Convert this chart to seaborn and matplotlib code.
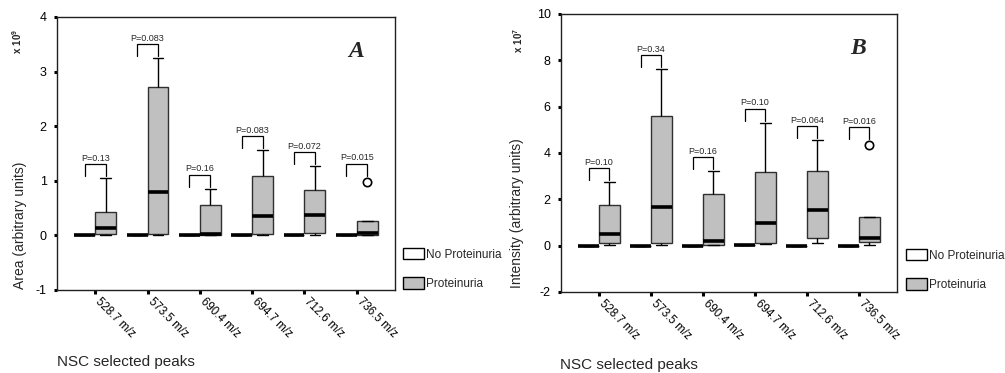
import numpy as np
import pandas as pd
import matplotlib
matplotlib.use("Agg")
import matplotlib.pyplot as plt
import seaborn as sns
from matplotlib.patches import Patch

# ---- data -------------------------------------------------------------
peaks = ["528.7 m/z", "573.5 m/z", "690.4 m/z", "694.7 m/z", "712.6 m/z", "736.5 m/z"]
groups = ["No Proteinuria", "Proteinuria"]

# Panel A: peak area (x 10^9); five-number summaries of the proteinuria group
area_lo = [0.00, 0.00, 0.00, 0.00, 0.00, 0.00]
area_q1 = [0.02, 0.02, 0.01, 0.02, 0.05, 0.01]
area_med = [0.14, 0.79, 0.03, 0.36, 0.38, 0.04]
area_q3 = [0.43, 2.71, 0.55, 1.08, 0.83, 0.27]
area_hi = [1.05, 3.24, 0.85, 1.56, 1.27, 0.98]
area_ctrl = [0.0, 0.0, 0.0, 0.0, 0.0, 0.0]
area_p = ["P=0.13", "P=0.083", "P=0.16", "P=0.083", "P=0.072", "P=0.015"]

# Panel B: peak intensity (x 10^7)
int_lo = [0.05, 0.05, 0.03, 0.07, 0.13, 0.02]
int_q1 = [0.10, 0.10, 0.05, 0.10, 0.32, 0.14]
int_med = [0.49, 1.65, 0.20, 0.96, 1.52, 0.32]
int_q3 = [1.76, 5.60, 2.21, 3.17, 3.21, 1.25]
int_hi = [2.74, 7.61, 3.21, 5.30, 4.56, 4.34]
int_ctrl = [0.0, 0.0, 0.0, 0.05, 0.0, 0.0]
int_p = ["P=0.10", "P=0.34", "P=0.16", "P=0.10", "P=0.064", "P=0.016"]

WHIS = 2.0

# ---- style ------------------------------------------------------------
sns.set_style("white")
plt.rcParams["font.family"] = ["Liberation Sans", "DejaVu Sans"]
plt.rcParams["mathtext.fontset"] = "custom"
plt.rcParams["mathtext.rm"] = "Liberation Sans"
plt.rcParams["mathtext.bf"] = "Liberation Sans:bold"

W, H = 1005, 373
fig = plt.figure(figsize=(W / 100, H / 100), dpi=100)


def long_table(lo, q1, med, q3, hi, ctrl):
    rows = []
    for i, pk in enumerate(peaks):
        for v in (lo[i], q1[i], med[i], q3[i], hi[i]):
            rows.append((pk, "Proteinuria", v))
        for _ in range(5):
            rows.append((pk, "No Proteinuria", ctrl[i]))
    return pd.DataFrame(rows, columns=["peak", "group", "value"])


def panel(rect, lo, q1, med, q3, hi, ctrl, pvals, ylim, yticks,
          letter, ylabel, scale, ylab_xy, scale_xy, xlab_xy, leg_xy):
    ax = fig.add_axes(rect)
    df = long_table(lo, q1, med, q3, hi, ctrl)
    sns.boxplot(
        data=df, x="peak", y="value", hue="group",
        order=peaks, hue_order=groups,
        palette={"No Proteinuria": "white", "Proteinuria": "#c0c0c0"},
        width=0.8, gap=0, whis=WHIS, linecolor="#303030", linewidth=1.0,
        medianprops=dict(color="black", linewidth=2.6),
        whiskerprops=dict(color="black", linewidth=1.0),
        capprops=dict(color="black", linewidth=1.0),
        flierprops=dict(marker="o", markersize=6, markerfacecolor="white",
                        markeredgecolor="black", markeredgewidth=1.2),
        legend=False, ax=ax,
    )
    ax.set_xlim(-0.73, 5.73)
    ax.set_ylim(*ylim)
    ax.set_yticks(yticks)
    ax.set_yticklabels([str(t) for t in yticks], fontsize=9)
    ax.set_xticks(range(len(peaks)))
    ax.set_xticklabels(peaks, rotation=-45, ha="left", va="baseline",
                       rotation_mode="anchor", fontsize=8.3)
    ax.tick_params(axis="x", direction="out", length=3, width=2.2, pad=6,
                   colors="black", bottom=True)
    ax.tick_params(axis="y", direction="out", length=2.5, width=2.2, pad=5,
                   colors="black", left=True)
    ax.set_xlabel("")
    ax.set_ylabel("")
    for s in ax.spines.values():
        s.set_color("#202020")
        s.set_linewidth(1.0)

    # p-value brackets over each pair of boxes
    ax_h_px = rect[3] * H
    per_px = (ylim[1] - ylim[0]) / ax_h_px
    for i in range(len(peaks)):
        iqr = q3[i] - q1[i]
        is_flier = hi[i] > q3[i] + WHIS * iqr
        base = hi[i] + (6 if is_flier else 2) * per_px
        top = base + 12 * per_px
        x0, x1 = i - 0.2, i + 0.2
        ax.plot([x0, x0, x1, x1], [base, top, top, base],
                color="black", linewidth=0.9, solid_joinstyle="miter")
        ax.text(i, top + 1.5 * per_px, pvals[i], ha="center", va="bottom",
                fontsize=6.5)

    ax.text(0.885, 0.875, letter, transform=ax.transAxes, ha="center",
            va="center", fontsize=17, fontweight="bold", fontstyle="italic",
            family="Liberation Serif")

    fig.text(ylab_xy[0] / W, 1 - ylab_xy[1] / H, ylabel, rotation=90,
             ha="center", va="center", fontsize=10)
    fig.text(scale_xy[0] / W, 1 - scale_xy[1] / H, scale, rotation=90,
             ha="center", va="center", fontsize=7)
    fig.text(xlab_xy[0] / W, 1 - xlab_xy[1] / H, "NSC selected peaks",
             ha="left", va="center", fontsize=11)

    handles = [Patch(facecolor="white", edgecolor="black", linewidth=1.0),
               Patch(facecolor="#c0c0c0", edgecolor="black", linewidth=1.0)]
    fig.legend(handles, groups, loc="upper left",
               bbox_to_anchor=(leg_xy[0] / W, 1 - leg_xy[1] / H),
               bbox_transform=fig.transFigure, frameon=False, fontsize=8.5,
               handlelength=1.8, handleheight=1.1, handletextpad=0.15,
               labelspacing=1.4, borderpad=0, borderaxespad=0)
    return ax


panel([57 / W, 1 - 290 / H, 338 / W, 273 / H],
      area_lo, area_q1, area_med, area_q3, area_hi, area_ctrl, area_p,
      (-1, 4), [-1, 0, 1, 2, 3, 4], "A", "Area (arbitrary units)",
      r"$\mathbf{x\ 10^{9}}$", (20, 225), (17, 41), (57, 362), (403, 248))

panel([561 / W, 1 - 292 / H, 336 / W, 278 / H],
      int_lo, int_q1, int_med, int_q3, int_hi, int_ctrl, int_p,
      (-2, 10), [-2, 0, 2, 4, 6, 8, 10], "B", "Intensity (arbitrary units)",
      r"$\mathbf{x\ 10^{7}}$", (517, 213), (518, 40), (560, 365), (906, 249))

fig.savefig("out.png", dpi=100)
